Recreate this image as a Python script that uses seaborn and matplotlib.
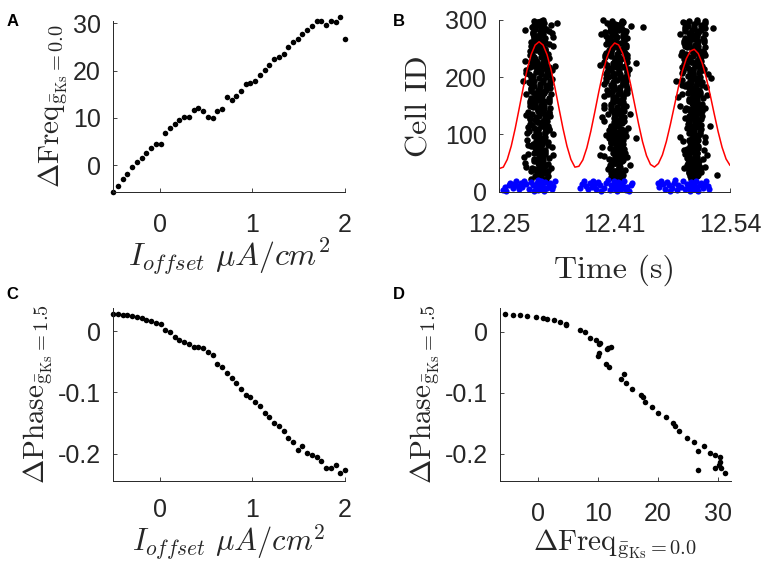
import numpy as np
import pandas as pd
import seaborn as sns
import matplotlib.pyplot as plt

# ---- panel A / C / D data (I_offset sweep) ----
i_offset = [-0.500, -0.449, -0.398, -0.347, -0.296, -0.245, -0.194, -0.143, -0.092, -0.041,
            0.010, 0.061, 0.112, 0.163, 0.214, 0.265, 0.316, 0.367, 0.418, 0.469,
            0.520, 0.571, 0.622, 0.673, 0.724, 0.776, 0.827, 0.878, 0.929, 0.980,
            1.031, 1.082, 1.133, 1.184, 1.235, 1.286, 1.337, 1.388, 1.439, 1.490,
            1.541, 1.592, 1.643, 1.694, 1.745, 1.796, 1.847, 1.898, 1.949, 2.000]

delta_freq = [-5.6, -4.3, -3.0, -1.8, -0.4, 0.8, 1.5, 2.6, 3.7, 4.6,
              4.6, 6.9, 7.8, 8.7, 9.6, 10.3, 10.2, 11.7, 12.1, 11.5,
              10.2, 10.0, 11.4, 11.8, 14.4, 13.8, 14.7, 15.6, 17.2, 17.5,
              17.9, 19.1, 20.1, 21.3, 22.5, 22.9, 23.5, 24.9, 26.0, 26.7,
              27.8, 28.7, 29.5, 30.4, 30.4, 29.6, 30.6, 30.2, 31.3, 26.7]

delta_phase = [0.0287, 0.0282, 0.0271, 0.0260, 0.0249, 0.0233, 0.0211, 0.0190, 0.0163, 0.0130,
               0.0114, 0.0027, -0.0011, -0.0098, -0.0136, -0.0179, -0.0206, -0.0260, -0.0255, -0.0282,
               -0.0341, -0.0390, -0.0537, -0.0585, -0.0690, -0.0770, -0.0840, -0.0940, -0.1040, -0.1070,
               -0.1160, -0.1230, -0.1340, -0.1400, -0.1500, -0.1550, -0.1630, -0.1740, -0.1810, -0.1950,
               -0.1880, -0.1990, -0.2020, -0.2060, -0.2130, -0.2240, -0.2230, -0.2180, -0.2320, -0.2270]

# ---- panel B data (raster) ----
burst_times = [12.300, 12.397, 12.494]
# spike-time spread around each burst centre, in ms
core_a_ms = [-3, 5, -8, 1, 9, -5, 2, -11, 7, -1, 4, -6, 12, -2, 0, 6, -9, 3, -4,
             10, -7, 1, 8, -12, 5, -3, 2, 11, -10, 6, -1, 3, -6, 12, -4, 0, 7]
core_b_ms = [2, -4, 6, -1, 0, 5, -6, 3, -2, 7, -5, 1, -3, 4, -7, 0, 3, -1, 6, -4, 2, -6, 1]
exc_cells = list(range(22, 301))
outlier_t = [12.323, 12.282, 12.280, 12.282, 12.3195,
             12.378, 12.376, 12.431, 12.422, 12.376, 12.422,
             12.472, 12.516, 12.519, 12.523, 12.515]
outlier_id = [295, 228, 193, 50, 219,
              275, 222, 288, 225, 64, 94,
              193, 199, 286, 29, 114]
inh_offset_ms = [-45, -43, -41, -38, -36, -33, -31, -29, -27, -25, -23, -21, -19, -16,
                 -13, -10, -8, -6, -4, -3, -2, -1, 0, 1, 2, 3, 4, 5, 6, 8, 10, 12, 14, 16, 18, 20]
inh_cells = [3, 8, 2, 12, 16, 6, 14, 18, 10, 4, 15, 9, 19, 13, 5, 17, 11, 1,
             7, 16, 20, 3, 12, 8, 18, 5, 14, 9, 2, 17, 6, 11, 15, 4, 10, 19]

red_t = [12.250, 12.255, 12.260, 12.265, 12.270, 12.275, 12.280, 12.285, 12.290, 12.295,
         12.300, 12.305, 12.310, 12.315, 12.320, 12.325, 12.330, 12.335, 12.340, 12.345,
         12.350, 12.355, 12.360, 12.365, 12.370, 12.375, 12.380, 12.385, 12.390, 12.395,
         12.400, 12.405, 12.410, 12.415, 12.420, 12.425, 12.430, 12.435, 12.440, 12.445,
         12.450, 12.455, 12.460, 12.465, 12.470, 12.475, 12.480, 12.485, 12.490, 12.495,
         12.500, 12.505, 12.510, 12.515, 12.520, 12.525, 12.530, 12.535, 12.540]
red_v = [40.5, 42.9, 56.3, 79.8, 110.7, 145.6, 181.2, 213.6, 239.5, 256.2,
         262.0, 256.2, 239.5, 213.6, 181.2, 145.6, 110.7, 79.8, 56.3, 42.9,
         44.4, 55.5, 76.6, 105.5, 139.2, 174.2, 206.7, 233.6, 251.9, 259.8,
         256.4, 242.1, 218.3, 187.7, 153.3, 118.7, 87.4, 63.0, 47.6, 43.1,
         49.2, 64.3, 87.9, 117.4, 149.7, 181.9, 210.5, 232.4, 245.6, 248.8,
         241.5, 224.6, 199.6, 169.4, 136.7, 105.0, 77.6, 57.2, 45.9]

time_ticks = [12.25, 12.395, 12.54]
time_labels = ["12.25", "12.41", "12.54"]

# build tables
sweep = pd.DataFrame({"ioff": i_offset, "freq": delta_freq, "phase": delta_phase})

exc_rows = []
for b, tc in enumerate(burst_times):
    for c in exc_cells:
        off = core_a_ms[(c + 3 * b) % len(core_a_ms)] + core_b_ms[(c + 5 * b) % len(core_b_ms)]
        exc_rows.append((tc + off / 1000.0, c))
exc_rows += list(zip(outlier_t, outlier_id))
exc = pd.DataFrame(exc_rows, columns=["t", "cell"])

inh_rows = []
for b, tc in enumerate(burst_times):
    for k, off in enumerate(inh_offset_ms):
        inh_rows.append((tc + off / 1000.0, inh_cells[(k + 5 * b) % len(inh_cells)]))
inh = pd.DataFrame(inh_rows, columns=["t", "cell"])

red = pd.DataFrame({"t": red_t, "v": red_v})

# ---- style ----
sns.set_style("ticks")
plt.rcParams["font.family"] = ["Liberation Sans", "DejaVu Sans"]
plt.rcParams["mathtext.fontset"] = "cm"
plt.rcParams["axes.unicode_minus"] = False
axcol = "#262626"

fig = plt.figure(figsize=(7.65, 5.63), dpi=100)
axA = fig.add_axes([0.1481, 0.6595, 0.3029, 0.3032])
axB = fig.add_axes([0.6527, 0.6595, 0.3016, 0.3050])
axC = fig.add_axes([0.1481, 0.1456, 0.3029, 0.3073])
axD = fig.add_axes([0.6536, 0.1456, 0.3016, 0.3073])

dot = dict(color="black", s=16, linewidth=0, clip_on=False, legend=False)
sns.scatterplot(data=sweep, x="ioff", y="freq", ax=axA, **dot)
sns.scatterplot(data=sweep, x="ioff", y="phase", ax=axC, **dot)
sns.scatterplot(data=sweep, x="freq", y="phase", ax=axD, **dot)

sns.scatterplot(data=exc, x="t", y="cell", ax=axB, color="black", s=22, linewidth=0,
                clip_on=False, legend=False)
sns.scatterplot(data=inh, x="t", y="cell", ax=axB, color="blue", s=20, linewidth=0,
                clip_on=False, legend=False)
sns.lineplot(data=red, x="t", y="v", ax=axB, color="red", linewidth=1.1)

freq_lab = r"$\Delta\mathrm{Freq}_{\bar{\mathrm{g}}_{\mathrm{Ks}}=0.0}$"
phase_lab = r"$\Delta\mathrm{Phase}_{\bar{\mathrm{g}}_{\mathrm{Ks}}=1.5}$"
ioff_lab = r"$I_{offset}\ \mu A/cm^2$"
big = 23
delta_size = 21

axA.set(xlim=(-0.5, 2.0), ylim=(-5.58, 30.5), xticks=[0, 1, 2], yticks=[0, 10, 20, 30])
axA.set_xlabel(ioff_lab, fontsize=big, labelpad=0)
axA.set_ylabel(freq_lab, fontsize=delta_size, labelpad=2)

axB.set(xlim=(12.25, 12.54), ylim=(0, 300), yticks=[0, 100, 200, 300])
axB.set_xticks(time_ticks)
axB.set_xticklabels(time_labels)
axB.set_xlabel("Time (s)", fontfamily="cmr10", fontsize=big, labelpad=13)
axB.set_ylabel("Cell ID", fontfamily="cmr10", fontsize=big, labelpad=8)

axC.set(xlim=(-0.5, 2.0), ylim=(-0.245, 0.038), xticks=[0, 1, 2], yticks=[-0.2, -0.1, 0])
axC.set_yticklabels(["-0.2", "-0.1", "0"])
axC.set_xlabel(ioff_lab, fontsize=22, labelpad=0)
axC.set_ylabel(phase_lab, fontsize=delta_size, labelpad=2)

axD.set(xlim=(-6.4, 32.2), ylim=(-0.245, 0.039), xticks=[0, 10, 20, 30], yticks=[-0.2, -0.1, 0])
axD.set_yticklabels(["-0.2", "-0.1", "0"])
axD.set_xlabel(freq_lab, fontsize=delta_size, labelpad=1)
axD.set_ylabel(phase_lab, fontsize=delta_size, labelpad=2)

for ax in (axA, axB, axC, axD):
    sns.despine(ax=ax)
    for sp in ("left", "bottom"):
        ax.spines[sp].set_color(axcol)
        ax.spines[sp].set_linewidth(0.7)
    ax.tick_params(direction="in", length=3, width=0.6, colors=axcol, labelsize=18)
    ax.tick_params(axis="x", pad=15)
    ax.tick_params(axis="y", pad=9)
axC.tick_params(axis="x", pad=12)

for lab, (x, y) in zip("ABCD", [(0.008, 0.975), (0.514, 0.975), (0.008, 0.49), (0.514, 0.49)]):
    fig.text(x, y, lab, fontsize=12, fontweight="bold", color="black", va="top")

fig.savefig("out.png", dpi=100)
